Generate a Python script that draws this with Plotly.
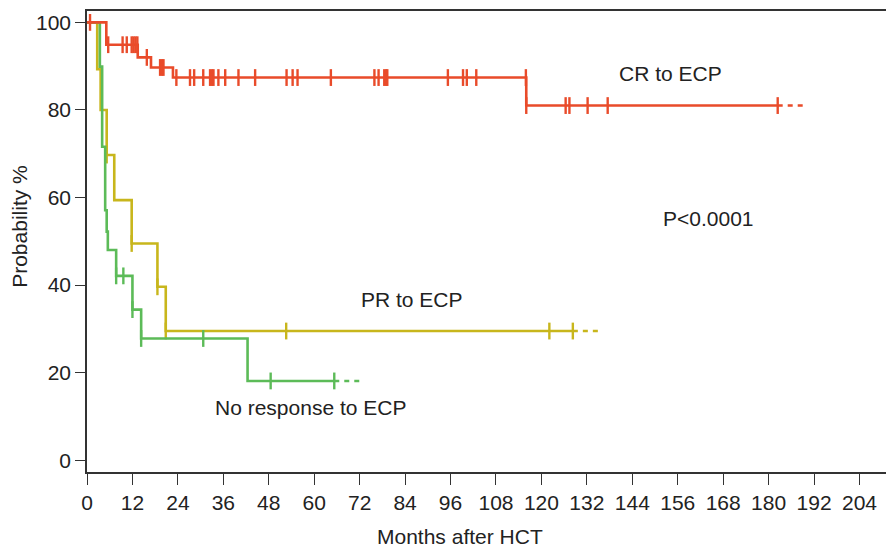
import plotly.graph_objects as go

# ---------------- data ----------------
# CR to ECP
cr_drop_months = [5.1, 13.4, 16.9, 22.7, 116.0]
cr_levels = [94.9, 92.0, 89.7, 87.4, 81.0]
cr_censor_months = [0.8, 5.6, 9.4, 10.5, 11.8, 12.3, 12.8, 13.3, 15.8, 19.3, 19.8,
                    20.2, 23.6, 27.2, 28.3, 30.7, 32.5, 33.0, 33.4, 34.7, 36.5, 40.0,
                    44.4, 52.7, 54.3, 55.6, 64.4, 75.9, 77.0, 78.5, 79.0, 79.3, 95.3,
                    99.3, 100.3, 102.8, 115.9, 116.0, 126.4, 127.4, 132.2, 137.5, 182.4]
cr_last_month = 182.4
cr_dash_to = 190.0

# PR to ECP
pr_drop_months = [2.7, 3.6, 5.2, 7.2, 11.8, 18.6, 20.8]
pr_levels = [89.3, 80.0, 69.7, 59.4, 49.5, 39.6, 29.5]
pr_censor_months = [5.2, 11.8, 18.6, 20.8, 52.6, 122.1, 128.3]
pr_last_month = 128.3
pr_dash_to = 135.3

# No response to ECP
nr_drop_months = [3.4, 4.0, 4.8, 5.2, 5.5, 7.7, 12.0, 14.3, 42.4]
nr_levels = [89.9, 71.6, 57.1, 52.2, 48.0, 42.1, 34.4, 27.8, 18.1]
nr_censor_months = [7.7, 9.6, 12.0, 14.3, 30.7, 48.5, 65.3]
nr_last_month = 65.3
nr_dash_to = 72.6

x_ticks = list(range(0, 205, 12))
y_ticks = [0, 20, 40, 60, 80, 100]

# ---------------- helpers ----------------
def surv_at(t, drops, levels):
    s = 100.0
    for d, l in zip(drops, levels):
        if d <= t:
            s = l
    return s

def add_curve(fig, drops, levels, censors, last, dash_to, color):
    xs = [0] + drops + [last]
    ys = [100] + levels + [levels[-1]]
    fig.add_trace(go.Scatter(x=xs, y=ys, mode="lines", line=dict(color=color, width=2.6, shape="hv"),
                             hoverinfo="skip", showlegend=False))
    fig.add_trace(go.Scatter(x=[last, dash_to], y=[levels[-1], levels[-1]], mode="lines",
                             line=dict(color=color, width=2.6, dash="5px,5px"),
                             hoverinfo="skip", showlegend=False))
    fig.add_trace(go.Scatter(x=censors, y=[surv_at(c, drops, levels) for c in censors], mode="markers",
                             marker=dict(symbol="line-ns", size=12, line=dict(color=color, width=2.4)),
                             hoverinfo="skip", showlegend=False))

RED = "#E94B2A"
YEL = "#C8B61C"
GRN = "#5CBB58"

fig = go.Figure()
add_curve(fig, pr_drop_months, pr_levels, pr_censor_months, pr_last_month, pr_dash_to, YEL)
add_curve(fig, nr_drop_months, nr_levels, nr_censor_months, nr_last_month, nr_dash_to, GRN)
add_curve(fig, cr_drop_months, cr_levels, cr_censor_months, cr_last_month, cr_dash_to, RED)

FONT = "Liberation Sans, Arial, Helvetica, sans-serif"
TXT = "#222222"
FS = 21

annos = [
    dict(x=154.2, y=88.4, text="CR to ECP"),
    dict(x=164.1, y=55.3, text="P<0.0001"),
    dict(x=85.9, y=36.6, text="PR to ECP"),
    dict(x=58.9, y=12.1, text="No response to ECP"),
]
for a in annos:
    fig.add_annotation(x=a["x"], y=a["y"], xref="x", yref="y", text=a["text"], showarrow=False,
                       font=dict(family=FONT, size=FS, color=TXT), xanchor="center", yanchor="middle")

# axis titles
fig.add_annotation(x=98.5, y=0, xref="x", yref="paper", yanchor="middle", yshift=-64,
                   text="Months after HCT", showarrow=False, font=dict(family=FONT, size=FS, color=TXT))
fig.add_annotation(x=0, y=53.3, xref="paper", yref="y", xanchor="center", xshift=-67,
                   text="Probability %", textangle=-90, showarrow=False,
                   font=dict(family=FONT, size=FS, color=TXT))

fig.update_layout(
    width=886, height=547,
    margin=dict(l=87, r=0, t=11, b=75, autoexpand=False),
    paper_bgcolor="white", plot_bgcolor="white",
    xaxis=dict(range=[0, 211], tickvals=x_ticks, ticktext=[str(v) for v in x_ticks],
               ticks="outside", ticklen=11, tickwidth=1.3, tickcolor="#333",
               showline=True, linecolor="#333", linewidth=1.6, mirror=True,
               showgrid=False, zeroline=False, automargin=False,
               tickfont=dict(family=FONT, size=FS, color=TXT)),
    yaxis=dict(range=[-2.7, 102.6], tickvals=y_ticks, ticktext=[str(v) for v in y_ticks],
               ticks="outside", ticklen=10, tickwidth=1.3, tickcolor="#333",
               showline=True, linecolor="#333", linewidth=1.6,
               showgrid=False, zeroline=False, automargin=False,
               tickfont=dict(family=FONT, size=FS, color=TXT)),
)

fig.write_html("out.html", config={"displayModeBar": False},
               post_script="document.body.style.margin='0';document.body.style.padding='0';document.body.style.overflow='hidden';")
